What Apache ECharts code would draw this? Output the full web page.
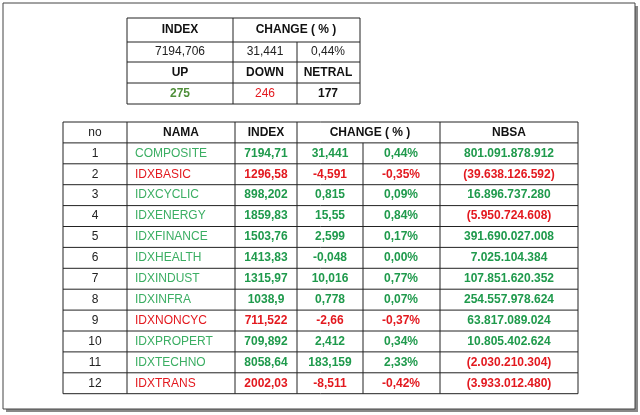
<!DOCTYPE html>
<html>
<head>
<meta charset="utf-8">
<script src="https://cdn.jsdelivr.net/npm/echarts@6/dist/echarts.min.js"></script>
</head>
<body style="margin:0">
<div id="box" style="width:640px;height:415px"></div>
<script>
// summary table
var sumIndex = '7194,706', sumChange = '31,441', sumPct = '0,44%';
var upCount = '275', downCount = '246', netralCount = '177';

// main table
var headers = ['no', 'NAMA', 'INDEX', 'CHANGE ( % )', 'NBSA'];
var names = ['COMPOSITE', 'IDXBASIC', 'IDXCYCLIC', 'IDXENERGY', 'IDXFINANCE', 'IDXHEALTH',
  'IDXINDUST', 'IDXINFRA', 'IDXNONCYC', 'IDXPROPERT', 'IDXTECHNO', 'IDXTRANS'];
var indexVals = ['7194,71', '1296,58', '898,202', '1859,83', '1503,76', '1413,83',
  '1315,97', '1038,9', '711,522', '709,892', '8058,64', '2002,03'];
var changeVals = ['31,441', '-4,591', '0,815', '15,55', '2,599', '-0,048',
  '10,016', '0,778', '-2,66', '2,412', '183,159', '-8,511'];
var pctVals = ['0,44%', '-0,35%', '0,09%', '0,84%', '0,17%', '0,00%',
  '0,77%', '0,07%', '-0,37%', '0,34%', '2,33%', '-0,42%'];
var nbsaVals = ['801.091.878.912', '(39.638.126.592)', '16.896.737.280', '(5.950.724.608)',
  '391.690.027.008', '7.025.104.384', '107.851.620.352', '254.557.978.624', '63.817.089.024',
  '10.805.402.624', '(2.030.210.304)', '(3.933.012.480)'];

var GREEN = '#1f9a4c', LGREEN = '#3bae63', RED = '#e3191f';
var FONT = 'Liberation Sans';
var g = [];

function line(x1, y1, x2, y2) {
  g.push({ type: 'line', shape: { x1: x1, y1: y1, x2: x2, y2: y2 }, style: { stroke: '#222', lineWidth: 1 } });
}
function txt(x, y, s, color, bold, align) {
  g.push({ type: 'text', x: x, y: y, style: { text: s, fill: color || '#222', font: (bold ? 'bold ' : '') + '12px ' + FONT, align: align || 'center', verticalAlign: 'middle' } });
}

// outer frame with shadow
g.push({ type: 'rect', shape: { x: 6, y: 6, width: 632, height: 406 }, style: { fill: '#888' } });
g.push({ type: 'rect', shape: { x: 3, y: 3, width: 632, height: 406 }, style: { fill: '#fff', stroke: '#444', lineWidth: 1 } });

// summary table
var sx = [127, 233, 297, 360], sy = [18, 42, 62, 83, 104];
sy.forEach(function (y) { line(sx[0], y, sx[3], y); });
line(sx[0], sy[0], sx[0], sy[4]); line(sx[3], sy[0], sx[3], sy[4]);
line(sx[1], sy[0], sx[1], sy[4]);
line(sx[2], sy[1], sx[2], sy[4]);
var smid = function (i) { return (sy[i] + sy[i + 1]) / 2; };
txt(180, smid(0), 'INDEX', '#111', true);
txt(296, smid(0), 'CHANGE ( % )', '#111', true);
txt(180, smid(1), sumIndex); txt(265, smid(1), sumChange); txt(328, smid(1), sumPct);
txt(180, smid(2), 'UP', '#111', true); txt(265, smid(2), 'DOWN', '#111', true); txt(328, smid(2), 'NETRAL', '#111', true);
txt(180, smid(3), upCount, '#4f8f3a', true); txt(265, smid(3), downCount, RED); txt(328, smid(3), netralCount, '#111', true);

// main table
var cx = [63, 127, 235, 297, 363, 440, 578];
var tableTop = 122, rh = 20.9, n = names.length;
for (var r = 0; r <= n + 1; r++) line(cx[0], tableTop + r * rh, cx[6], tableTop + r * rh);
cx.forEach(function (x, i) {
  if (i === 4) line(x, tableTop + rh, x, tableTop + (n + 1) * rh);
  else line(x, tableTop, x, tableTop + (n + 1) * rh);
});
var hy = tableTop + rh / 2;
txt(95, hy, headers[0], '#222');
txt(181, hy, headers[1], '#111', true);
txt(266, hy, headers[2], '#111', true);
txt(370, hy, headers[3], '#111', true);
txt(509, hy, headers[4], '#111', true);
names.forEach(function (nm, i) {
  var y = tableTop + (i + 1.5) * rh;
  var neg = changeVals[i].charAt(0) === '-' && changeVals[i] !== '-0,048';
  var c = neg ? RED : GREEN;
  txt(95, y, String(i + 1));
  txt(135, y, nm, neg ? RED : LGREEN, false, 'left');
  txt(266, y, indexVals[i], c, true);
  txt(330, y, changeVals[i], c, true);
  txt(401, y, pctVals[i], c, true);
  var nb = nbsaVals[i].charAt(0) === '(';
  txt(509, y, nbsaVals[i], nb ? RED : GREEN, true);
});

var chart = echarts.init(document.getElementById('box'));
chart.setOption({ animation: false, graphic: g });
</script>
</body>
</html>
